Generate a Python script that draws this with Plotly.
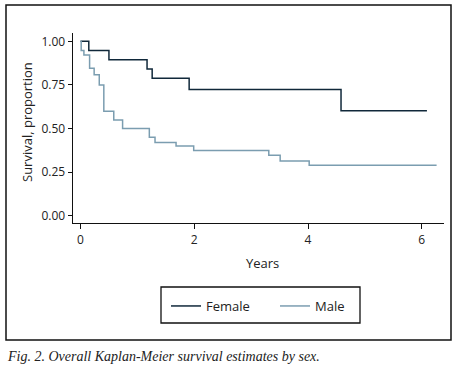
import plotly.graph_objects as go

W, H = 456, 372

# Kaplan-Meier step data
female_years = [0, 0.146, 0.50, 1.17, 1.26, 1.91, 4.58, 6.09]
female_surv = [1.0, 0.947, 0.895, 0.842, 0.789, 0.724, 0.603, 0.603]

male_years = [0, 0.012, 0.06, 0.16, 0.24, 0.33, 0.41, 0.585, 0.74, 1.21, 1.31,
              1.68, 1.99, 3.31, 3.51, 4.02, 6.26]
male_surv = [1.0, 0.948, 0.922, 0.846, 0.808, 0.75, 0.60, 0.55, 0.50, 0.45, 0.42,
             0.40, 0.375, 0.347, 0.314, 0.29, 0.29]

x_ticks = [0, 2, 4, 6]
y_ticks = [0.0, 0.25, 0.5, 0.75, 1.0]
y_tick_labels = ["0.00", "0.25", "0.50", "0.75", "1.00"]

series_names = ["Female", "Male"]
colors = ["#10283a", "#7b9db0"]

caption = "Fig. 2. Overall Kaplan-Meier survival estimates by sex."


def px(x):
    return x / W


def py(y):
    return 1 - y / H


fig = go.Figure()
for name, xs, ys, c in zip(series_names, [female_years, male_years],
                           [female_surv, male_surv], colors):
    fig.add_trace(go.Scatter(x=xs, y=ys, mode="lines", name=name,
                             line=dict(color=c, width=1.5, shape="hv")))

tickfont = dict(family="Open Sans", size=12, color="#222")
labelfont = dict(family="Open Sans", size=13, color="#222")

fig.update_layout(
    template="none",
    width=W, height=H,
    margin=dict(l=0, r=0, t=0, b=0, pad=0),
    paper_bgcolor="white", plot_bgcolor="white",
    xaxis=dict(domain=[px(72.7), px(444)], range=[-0.137, 6.39],
               automargin=False,
               tickvals=x_ticks, ticks="outside", ticklen=5, tickwidth=1,
               tickcolor="#111", showline=True, linecolor="#111", linewidth=1.3,
               showgrid=False, zeroline=False, tickfont=tickfont),
    yaxis=dict(domain=[py(223), py(33)], range=[-0.041, 1.048],
               automargin=False,
               tickvals=y_ticks, ticktext=y_tick_labels, ticks="outside",
               ticklen=4, tickwidth=1, tickcolor="#111", showline=True,
               linecolor="#111", linewidth=1.3, showgrid=False, zeroline=False,
               tickfont=tickfont),
    showlegend=True,
    legend=dict(orientation="h", x=px(166), y=py(291), xanchor="left",
                yanchor="top", xref="paper", yref="paper",
                borderwidth=0, bgcolor="rgba(0,0,0,0)",
                font=labelfont,
                itemwidth=30, entrywidth=64, entrywidthmode="pixels"),
    shapes=[
        dict(type="rect", xref="paper", yref="paper",
             x0=px(6), x1=px(451), y0=py(340), y1=py(5),
             line=dict(color="#111", width=1.5)),
        dict(type="rect", xref="paper", yref="paper",
             x0=px(161), x1=px(360), y0=py(323), y1=py(287),
             line=dict(color="#111", width=1.3)),
    ],
    annotations=[
        dict(text="Survival, proportion", textangle=-90, x=px(27), y=py(122),
             xref="paper", yref="paper", xanchor="center", yanchor="middle",
             showarrow=False, font=labelfont),
        dict(text="Years", x=px(262), y=py(263), xref="paper", yref="paper",
             xanchor="center", yanchor="middle",
             showarrow=False, font=labelfont),
        dict(text=caption, x=px(5), y=py(356), xref="paper", yref="paper",
             xanchor="left", yanchor="middle", showarrow=False,
             font=dict(family="Liberation Serif", size=14, color="#222",
                       style="italic")),
    ],
)

fig.write_html("out.html",
               config={"displayModeBar": False},
               post_script="document.body.style.margin='0';"
                           "document.body.style.padding='0';"
                           "document.body.style.overflow='hidden';")
